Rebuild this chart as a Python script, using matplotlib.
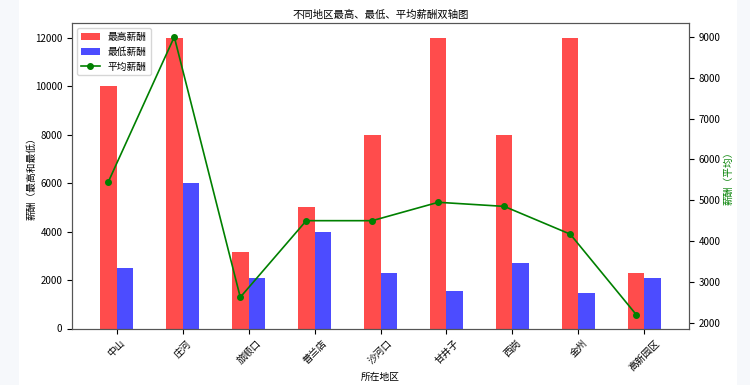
import numpy as np
import matplotlib
matplotlib.use('Agg')
import matplotlib.pyplot as plt
from matplotlib.patches import Rectangle

plt.rcParams['font.family'] = ['Noto Sans CJK SC', 'DejaVu Sans']
plt.rcParams['axes.unicode_minus'] = False

regions = ['中山', '庄河', '旅顺口', '普兰店', '沙河口', '甘井子', '西岗', '金州', '高新园区']
max_salary = [10000, 12000, 3150, 5000, 8000, 12000, 8000, 12000, 2300]
min_salary = [2500, 6000, 2100, 4000, 2300, 1550, 2700, 1450, 2100]
avg_salary = [5450, 9000, 2625, 4500, 4500, 4950, 4850, 4170, 2200]

fig = plt.figure(figsize=(7.5, 3.85), dpi=100, facecolor='#f6f8fb')
# white card behind the chart
fig.patches.append(Rectangle((19/750, 0), (737-19)/750, 1, transform=fig.transFigure,
                             facecolor='white', edgecolor='none', zorder=-10))
ax1 = fig.add_axes([72/750, 1-328.5/385, (689-72)/750, (328.5-23)/385])

x = np.arange(len(regions))
width = 0.25
fs = 7

b1 = ax1.bar(x, max_salary, width, color='red', alpha=0.7, label='最高薪酬')
b2 = ax1.bar(x + width, min_salary, width, color='blue', alpha=0.7, label='最低薪酬')
ax1.set_xticks(x + width/2)
ax1.set_xticklabels(regions, rotation=45, fontsize=fs)
ax1.set_xlabel('所在地区', fontsize=fs, labelpad=-1)
ax1.set_ylabel('薪酬（最高和最低）', fontsize=fs, labelpad=-1)
ax1.tick_params(axis='y', labelsize=fs)
ax1.set_title('不同地区最高、最低、平均薪酬双轴图', fontsize=fs+0.5, pad=4)

ax2 = ax1.twinx()
l1, = ax2.plot(x, avg_salary, color='green', marker='o', markersize=4, linewidth=1.2, label='平均薪酬')
ax2.set_ylabel('薪酬（平均）', color='green', fontsize=fs, labelpad=2)
ax2.tick_params(axis='y', labelsize=fs)

for ax in (ax1, ax2):
    for s in ax.spines.values():
        s.set_color('#555555')

ax1.legend([b1, b2, l1], ['最高薪酬', '最低薪酬', '平均薪酬'], loc='upper left', fontsize=fs)

fig.savefig('out.png', dpi=100, facecolor=fig.get_facecolor())
